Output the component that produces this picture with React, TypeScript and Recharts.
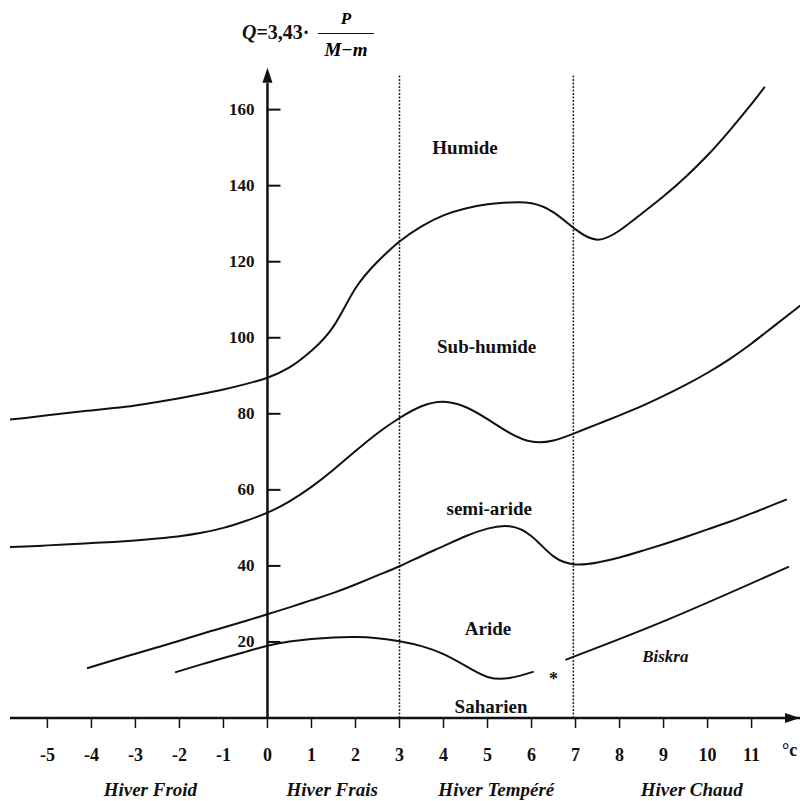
import { LineChart, Line, XAxis, YAxis, ReferenceLine, ReferenceDot } from 'recharts';

const FONT = '"Liberation Serif", "Times New Roman", serif';
const INK = '#111';

// limites entre étages bioclimatiques, lues tous les 0,5 °C (x = m en °C, y = Q)
const humideX = [-6, -5.5, -5, -4.5, -4, -3.5, -3, -2.5, -2, -1.5, -1, -0.5, 0, 0.5, 1, 1.5, 2, 2.5, 3, 3.5, 4, 4.5, 5, 5.5, 6, 6.5, 7, 7.5, 8, 8.5, 9, 9.5, 10, 10.5, 11, 11.3];
const humideQ = [78.3, 78.9, 79.6, 80.3, 80.9, 81.5, 82.2, 83.1, 84.1, 85.2, 86.4, 87.8, 89.5, 92.2, 96.6, 103, 113.0, 120.0, 125.3, 129.3, 132.2, 134.0, 135.1, 135.6, 135.4, 133.0, 128.5, 125.8, 128.2, 132.6, 137.2, 142.3, 148.0, 154.5, 161.5, 166.0];

const subHumideX = [-6, -5.5, -5, -4.5, -4, -3.5, -3, -2.5, -2, -1.5, -1, -0.5, 0, 0.5, 1, 1.5, 2, 2.5, 3, 3.5, 4, 4.5, 5, 5.5, 6, 6.5, 7, 7.5, 8, 8.5, 9, 9.5, 10, 10.5, 11, 11.5, 12, 12.5];
const subHumideQ = [44.9, 45.1, 45.4, 45.7, 46.0, 46.3, 46.7, 47.2, 47.8, 48.7, 50.0, 51.8, 54.0, 57.0, 60.8, 65.3, 70.2, 74.9, 78.9, 82.0, 83.2, 81.8, 78.6, 75.0, 72.7, 73.0, 75.0, 77.3, 79.6, 82.0, 84.7, 87.6, 90.8, 94.4, 98.5, 103.0, 107.5, 112.0];

const semiArideX = [-4.1, -3.5, -3, -2.5, -2, -1.5, -1, -0.5, 0, 0.5, 1, 1.5, 2, 2.5, 3, 3.5, 4, 4.5, 5, 5.5, 6, 6.5, 7, 7.5, 8, 8.5, 9, 9.5, 10, 10.5, 11, 11.5, 11.8];
const semiArideQ = [13.1, 15.2, 16.9, 18.6, 20.3, 22.1, 23.8, 25.5, 27.3, 29.1, 31.0, 32.9, 35.1, 37.5, 39.9, 42.6, 45.2, 47.8, 49.8, 50.4, 47.8, 42.5, 40.4, 40.9, 42.2, 43.9, 45.7, 47.6, 49.6, 51.6, 53.8, 56.1, 57.5];

const arideX = [-2.1, -1.5, -1, -0.5, 0, 0.5, 1, 1.5, 2, 2.5, 3, 3.5, 4, 4.5, 5, 5.5, 6.05];
const arideQ = [12.0, 14.1, 15.8, 17.4, 19.0, 20.1, 20.8, 21.2, 21.3, 21.0, 20.2, 18.9, 16.8, 13.7, 10.8, 10.5, 12.2];

const arideEstX = [6.77, 9.08, 11.85];
const arideEstQ = [15.3, 25.8, 39.8];

const xTicks = [-5, -4, -3, -2, -1, 0, 1, 2, 3, 4, 5, 6, 7, 8, 9, 10, 11];
const yTicks = [20, 40, 60, 80, 100, 120, 140, 160];
const winterX = [-2.66, 1.47, 5.2, 9.64];
const winterNames = ['Hiver Froid', 'Hiver Frais', 'Hiver Tempéré', 'Hiver Chaud'];
const winterLimits = [3, 6.95];

const zoneNames = ['Humide', 'Sub-humide', 'semi-aride', 'Aride', 'Saharien'];
const zoneX = [4.49, 4.98, 5.04, 5.01, 5.08];
const zoneQ = [150, 97.6, 55.1, 23.5, 2.9];

const toPoints = (xs: number[], ys: number[]) => xs.map((x, i) => ({ x, y: ys[i] }));

const curves = [
  toPoints(humideX, humideQ),
  toPoints(subHumideX, subHumideQ),
  toPoints(semiArideX, semiArideQ),
  toPoints(arideX, arideQ),
  toPoints(arideEstX, arideEstQ),
];

const YTick = (props: any) => {
  const { cx, cy, value } = props;
  return (
    <g>
      <line x1={cx} y1={cy} x2={cx + 13} y2={cy} stroke={INK} strokeWidth={2} />
      <text x={cx - 13} y={cy} textAnchor="end" dominantBaseline="central" fontFamily={FONT} fontSize={17} fontWeight="bold" fill={INK}>
        {value}
      </text>
    </g>
  );
};

const ZoneText = (props: any) => {
  const { cx, cy, value, italic, size, dy } = props;
  return (
    <text x={cx} y={cy + (dy || 0)} textAnchor="middle" dominantBaseline="central" fontFamily={FONT} fontSize={size || 19} fontWeight="bold" fontStyle={italic ? 'italic' : 'normal'} fill={INK}>
      {value}
    </text>
  );
};

export default function App() {
  return (
    <div style={{ position: 'absolute', left: 0, top: 0, width: 803, height: 801, background: '#fff', fontFamily: FONT }}>
      <div style={{ position: 'absolute', left: 242, top: 22, fontSize: 20, fontWeight: 'bold', color: INK, lineHeight: 1 }}>
        <i>Q</i>=3,43·
      </div>
      <div style={{ position: 'absolute', left: 318, top: 10, width: 56, textAlign: 'center', fontSize: 17, fontWeight: 'bold', fontStyle: 'italic', lineHeight: 1 }}>
        P
      </div>
      <div style={{ position: 'absolute', left: 318, top: 33, width: 56, borderTop: '1.5px solid #111' }} />
      <div style={{ position: 'absolute', left: 318, top: 40, width: 56, textAlign: 'center', fontSize: 19, fontWeight: 'bold', fontStyle: 'italic', lineHeight: 1 }}>
        M−m
      </div>
      <div style={{ position: 'absolute', left: 782, top: 741, fontSize: 18, fontWeight: 'bold', color: INK, lineHeight: 1 }}>
        °c
      </div>

      <LineChart width={803} height={801} margin={{ top: 64, right: 3, bottom: 0, left: 10 }}>
        <XAxis
          xAxisId="main"
          type="number"
          dataKey="x"
          domain={[-5.85, 12.1]}
          allowDataOverflow
          ticks={xTicks}
          interval={0}
          height={83}
          axisLine={{ stroke: INK, strokeWidth: 2.5 }}
          tickLine={{ stroke: INK, strokeWidth: 1.5 }}
          tickSize={10}
          tickMargin={20}
          tick={{ fontFamily: FONT, fontSize: 18, fontWeight: 'bold', fill: INK }}
        />
        <YAxis type="number" domain={[0, 172]} allowDataOverflow hide />

        {winterLimits.map((x) => (
          <ReferenceLine
            key={`lim-${x}`}
            xAxisId="main"
            segment={[{ x, y: 0 }, { x, y: 169 }]}
            stroke="#222"
            strokeWidth={1.5}
            strokeDasharray="2 1.5"
          />
        ))}

        <ReferenceLine xAxisId="main" segment={[{ x: 0, y: 0 }, { x: 0, y: 167 }]} stroke={INK} strokeWidth={2.5} />
        <ReferenceDot
          xAxisId="main"
          x={0}
          y={171}
          ifOverflow="visible"
          shape={(p: any) => <polygon points={`${p.cx},${p.cy} ${p.cx - 5},${p.cy + 15} ${p.cx + 5},${p.cy + 15}`} fill={INK} />}
        />
        <ReferenceDot
          xAxisId="main"
          x={12.1}
          y={0}
          ifOverflow="visible"
          shape={(p: any) => <polygon points={`${p.cx},${p.cy} ${p.cx - 15},${p.cy - 5} ${p.cx - 15},${p.cy + 5}`} fill={INK} />}
        />

        {yTicks.map((v) => (
          <ReferenceDot key={`yt-${v}`} xAxisId="main" x={0} y={v} ifOverflow="visible" shape={(p: any) => <YTick {...p} value={v} />} />
        ))}

        {curves.map((pts, i) => (
          <Line
            key={`c-${i}`}
            xAxisId="main"
            data={pts}
            dataKey="y"
            type="natural"
            stroke={INK}
            strokeWidth={2}
            dot={false}
            activeDot={false}
            isAnimationActive={false}
          />
        ))}

        {zoneNames.map((name, i) => (
          <ReferenceDot key={`z-${name}`} xAxisId="main" x={zoneX[i]} y={zoneQ[i]} ifOverflow="visible" shape={(p: any) => <ZoneText {...p} value={name} />} />
        ))}
        <ReferenceDot xAxisId="main" x={9.04} y={16.3} ifOverflow="visible" shape={(p: any) => <ZoneText {...p} value="Biskra" italic size={17} />} />
        <ReferenceDot xAxisId="main" x={6.5} y={10.3} ifOverflow="visible" shape={(p: any) => <ZoneText {...p} value="*" size={18} />} />

        {winterNames.map((name, i) => (
          <ReferenceDot
            key={`w-${name}`}
            xAxisId="main"
            x={winterX[i]}
            y={0}
            ifOverflow="visible"
            shape={(p: any) => <ZoneText {...p} value={name} italic size={19} dy={71} />}
          />
        ))}
      </LineChart>
    </div>
  );
}
